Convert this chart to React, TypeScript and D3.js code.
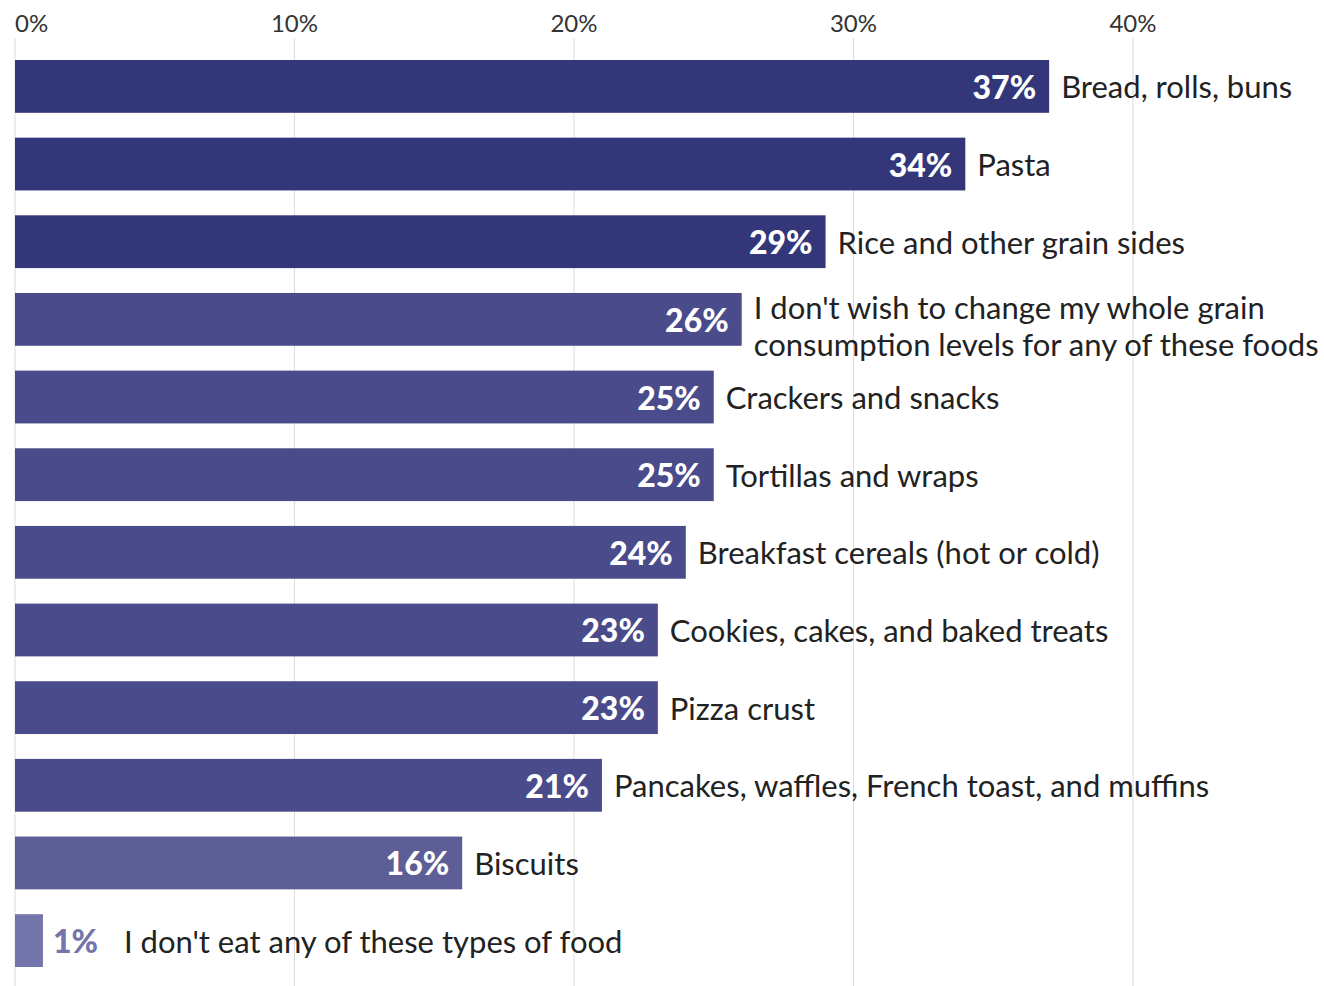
import React from "react";
import * as d3 from "d3";

const categories: string[] = [
  "Bread, rolls, buns",
  "Pasta",
  "Rice and other grain sides",
  "I don't wish to change my whole grain|consumption levels for any of these foods",
  "Crackers and snacks",
  "Tortillas and wraps",
  "Breakfast cereals (hot or cold)",
  "Cookies, cakes, and baked treats",
  "Pizza crust",
  "Pancakes, waffles, French toast, and muffins",
  "Biscuits",
  "I don't eat any of these types of food",
];
const values: number[] = [37, 34, 29, 26, 25, 25, 24, 23, 23, 21, 16, 1];
const colors: string[] = [
  "#33377a", "#33377a", "#33377a",
  "#4a4b8a", "#4a4b8a", "#4a4b8a", "#4a4b8a", "#4a4b8a", "#4a4b8a", "#4a4b8a",
  "#5d5e96", "#7475ab",
];
const ticks: number[] = [0, 10, 20, 30, 40];

const W = 1324;
const H = 986;
const FONT = "Lato, 'Open Sans', sans-serif";

export default function App() {
  const x = d3.scaleLinear().domain([0, 10]).range([15, 294.5]);
  const y = d3
    .scaleBand<number>()
    .domain(d3.range(values.length))
    .range([60, 967])
    .paddingInner(0.32)
    .paddingOuter(0);
  const bw = y.bandwidth();

  return (
    <svg
      width={W}
      height={H}
      style={{ position: "absolute", left: 0, top: 0, background: "#fff" }}
      fontFamily={FONT}
    >
      {ticks.map((t, i) => (
        <g key={t}>
          <line x1={x(t)} x2={x(t)} y1={38} y2={H} stroke="#dcdcdc" strokeWidth={1} />
          <text
            x={x(t)}
            y={22}
            textAnchor={i === 0 ? "start" : "middle"}
            dominantBaseline="central"
            fontSize={24}
            fill="#333"
          >
            {t}%
          </text>
        </g>
      ))}
      {values.map((v, i) => {
        const y0 = y(i)!;
        const cy = y0 + bw / 2;
        const xe = x(v);
        const small = v < 5;
        const lines = categories[i].split("|");
        const labelX = small ? xe + 10 : xe - 13;
        const catX = small ? xe + 81 : xe + 12;
        const multiShift = lines.length > 1 ? 6 : 0;
        return (
          <g key={i}>
            <rect x={x(0)} y={y0} width={xe - x(0)} height={bw} fill={colors[i]} />
            <text
              x={labelX}
              y={cy}
              textAnchor={small ? "start" : "end"}
              dominantBaseline="central"
              fontSize={32}
              fontWeight={900}
              fill={small ? colors[i] : "#fff"}
            >
              {v}%
            </text>
            <text
              x={catX}
              y={cy + multiShift}
              dominantBaseline="central"
              fontSize={31}
              fill="#222"
            >
              {lines.map((l, j) => (
                <tspan key={j} x={catX} dy={j === 0 ? -((lines.length - 1) * 37) / 2 : 37}>
                  {l}
                </tspan>
              ))}
            </text>
          </g>
        );
      })}
    </svg>
  );
}
